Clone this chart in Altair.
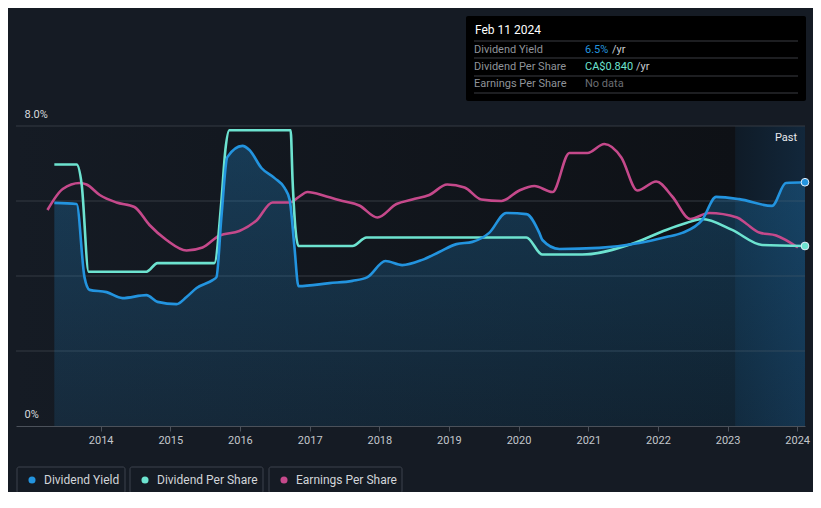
import altair as alt
import pandas as pd

# ---------------- data ----------------
yield_dates = ["2013-05-03", "2013-08-28", "2013-10-08", "2013-11-04", "2014-02-01", "2014-04-25",
               "2014-08-29", "2014-10-26", "2015-02-03", "2015-03-27", "2015-05-19", "2015-08-11",
               "2015-08-31", "2015-09-26", "2015-10-27", "2016-01-14", "2016-02-20", "2016-04-23",
               "2016-07-01", "2016-08-22", "2016-09-18", "2016-10-13", "2016-11-03", "2017-04-15",
               "2017-08-13", "2017-10-31", "2018-02-02", "2018-05-01", "2018-08-14", "2018-11-11",
               "2019-02-09", "2019-05-04", "2019-07-31", "2019-10-28", "2020-02-11", "2020-04-19",
               "2020-05-05", "2020-08-02", "2021-02-27", "2021-09-25", "2022-02-13", "2022-05-08",
               "2022-08-20", "2022-11-02", "2023-03-03", "2023-08-22", "2023-11-03", "2024-02-11"]
yield_values = [5.95, 5.92, 3.97, 3.63, 3.57, 3.41, 3.49, 3.31, 3.25, 3.44, 3.68, 3.89,
                3.97, 5.57, 7.17, 7.47, 7.36, 6.88, 6.61, 6.35, 6.03, 4.77, 3.73, 3.81,
                3.87, 3.97, 4.40, 4.29, 4.43, 4.64, 4.85, 4.91, 5.15, 5.68, 5.65, 5.15,
                4.96, 4.72, 4.75, 4.88, 5.04, 5.15, 5.49, 6.11, 6.05, 5.87, 6.48, 6.50]

dps_dates = ["2013-05-03", "2013-08-28", "2013-09-23", "2013-10-30", "2014-08-29", "2014-10-26",
             "2015-08-20", "2015-09-26", "2015-10-17", "2015-11-07", "2016-09-23", "2016-10-03",
             "2016-11-03", "2017-08-13", "2017-10-26", "2020-02-11", "2020-05-05", "2020-11-30",
             "2021-08-19", "2022-02-13", "2022-05-29", "2022-08-20", "2023-01-25", "2023-07-01",
             "2024-02-11"]
dps_values = [1.22, 1.22, 1.13, 0.72, 0.72, 0.76, 0.76, 1.05, 1.29, 1.38, 1.38, 1.15,
              0.84, 0.84, 0.88, 0.88, 0.80, 0.80, 0.85, 0.915, 0.947, 0.966, 0.915, 0.845,
              0.84]

eps_dates = ["2013-03-28", "2013-06-16", "2013-09-13", "2013-10-19", "2013-12-27", "2014-03-25",
             "2014-06-27", "2014-09-14", "2014-12-12", "2015-03-27", "2015-06-19", "2015-09-16",
             "2015-12-29", "2016-03-28", "2016-06-20", "2016-09-18", "2016-11-08", "2016-12-20",
             "2017-03-30", "2017-06-22", "2017-09-18", "2017-12-22", "2018-04-01", "2018-06-23",
             "2018-09-20", "2018-12-23", "2019-03-24", "2019-06-20", "2019-10-03", "2020-01-05",
             "2020-03-24", "2020-06-27", "2020-09-24", "2020-12-27", "2021-03-26", "2021-06-23",
             "2021-09-15", "2021-12-23", "2022-03-17", "2022-06-19", "2022-09-26", "2023-02-20",
             "2023-04-08", "2023-06-16", "2023-09-13", "2024-01-05"]
eps_values = [1.44, 1.58, 1.62, 1.61, 1.54, 1.49, 1.46, 1.34, 1.24, 1.17, 1.19, 1.27,
              1.30, 1.37, 1.49, 1.49, 1.53, 1.56, 1.53, 1.50, 1.47, 1.39, 1.48, 1.51,
              1.54, 1.61, 1.59, 1.51, 1.50, 1.57, 1.60, 1.56, 1.82, 1.82, 1.88, 1.79,
              1.57, 1.63, 1.53, 1.38, 1.42, 1.39, 1.35, 1.29, 1.27, 1.19]

grid_values = [2, 4, 6, 8]
tick_years = [2014, 2015, 2016, 2017, 2018, 2019, 2020, 2021, 2022, 2023, 2024]
x_domain = ["2012-10-14", "2024-02-11"]
past_start = "2023-02-11"

legend_names = ["Dividend Yield", "Dividend Per Share", "Earnings Per Share"]
tooltip_title = "Feb 11 2024"
tooltip_labels = ["Dividend Yield", "Dividend Per Share", "Earnings Per Share"]
tooltip_values = ["6.5%", "CA$0.840", "No data"]
tooltip_units = ["/yr", "/yr", ""]

# ---------------- style ----------------
FONT = "Roboto"
BG = "#151b24"
BLUE = "#2394df"
TEAL = "#6de3d0"
PINK = "#c5498b"
W, H = 789, 300

df_yield = pd.DataFrame({"date": yield_dates, "v": yield_values})
df_dps = pd.DataFrame({"date": dps_dates, "v": dps_values})
df_eps = pd.DataFrame({"date": eps_dates, "v": eps_values})
df_grid = pd.DataFrame({"v": grid_values})
df_bg = pd.DataFrame({"date": [x_domain[0]], "date2": [past_start]})
df_past = pd.DataFrame({"date": [past_start], "date2": [x_domain[1]]})

x_axis = alt.Axis(format="%Y", values=[alt.DateTime(year=y, month=1, date=1) for y in tick_years],
                  grid=False, labelFlush=False,
                  domainColor="#4b515a", tickColor="#4b515a", tickSize=5,
                  labelColor="#c3c7cc", labelFont=FONT, labelFontSize=11, labelPadding=3,
                  title=None)


def xenc():
    return alt.X("date:T", scale=alt.Scale(domain=x_domain), axis=x_axis)


def yenc(domain):
    return alt.Y("v:Q", scale=alt.Scale(domain=domain), axis=None)


def grad_h(c0, c1):
    return alt.Gradient(gradient="linear", x1=0, x2=1, y1=0, y2=0,
                        stops=[alt.GradientStop(color=c0, offset=0),
                               alt.GradientStop(color=c1, offset=1)])


bg_rect = alt.Chart(df_bg).mark_rect(color=grad_h("#151b24", "#0e1116")).encode(
    x=xenc(), x2="date2:T", y=alt.value(0), y2=alt.value(H))
past_rect = alt.Chart(df_past).mark_rect(color=grad_h("#0f1b27", "#12273b")).encode(
    x=xenc(), x2="date2:T", y=alt.value(0), y2=alt.value(H))

grid = alt.Chart(df_grid).mark_rule(color="#353a42", strokeWidth=1).encode(
    y=alt.Y("v:Q", scale=alt.Scale(domain=[0, 8]),
            axis=alt.Axis(values=[0, 8], grid=False, domain=False, ticks=False,
                          labelExpr="datum.value == 8 ? '8.0%' : '0%'",
                          labelAlign="left", labelBaseline="bottom", labelPadding=-8,
                          labelOffset=-7, labelOverlap=False, labelFlush=False,
                          labelColor="#d6d9dd", labelFont=FONT, zindex=1,
                          labelFontSize=11, title=None)))

area = alt.Chart(df_yield).mark_area(
    interpolate="monotone",
    color=alt.Gradient(gradient="linear", x1=0, x2=0, y1=0, y2=1,
                       stops=[alt.GradientStop(color="rgba(35,148,223,0.28)", offset=0),
                              alt.GradientStop(color="rgba(35,148,223,0.13)", offset=1)])
).encode(x=xenc(), y=yenc([0, 8]))

line_yield = alt.Chart(df_yield).mark_line(interpolate="monotone", color=BLUE, strokeWidth=2.6).encode(
    x=xenc(), y=yenc([0, 8]))
line_dps = alt.Chart(df_dps).mark_line(interpolate="monotone", color=TEAL, strokeWidth=2.6).encode(
    x=xenc(), y=yenc([0, 1.4]))
line_eps = alt.Chart(df_eps).mark_line(interpolate="monotone", color=PINK, strokeWidth=2.6).encode(
    x=xenc(), y=yenc([0, 2]))

pt_yield = alt.Chart(df_yield.tail(1)).mark_circle(size=60, color=BLUE, opacity=1,
                                                   stroke="#e6f0fa", strokeWidth=1).encode(
    x=xenc(), y=yenc([0, 8]))
pt_dps = alt.Chart(df_dps.tail(1)).mark_circle(size=60, color=TEAL, opacity=1,
                                               stroke="#e6f0fa", strokeWidth=1).encode(
    x=xenc(), y=yenc([0, 1.4]))

ONE = alt.Data(values=[{"k": 1}])


def text_at(t, x, y, color, size=11, align="left", weight="normal"):
    return alt.Chart(ONE).mark_text(text=t, align=align, baseline="middle", font=FONT,
                                    fontSize=size, color=color, fontWeight=weight).encode(
        x=alt.value(x), y=alt.value(y))


def box(x, x2, y, y2, fill=None, stroke=None):
    kw = {}
    if fill:
        kw["fill"] = fill
    else:
        kw["fillOpacity"] = 0
    if stroke:
        kw["stroke"] = stroke
        kw["strokeWidth"] = 1
    return alt.Chart(ONE).mark_rect(cornerRadius=2, **kw).encode(
        x=alt.value(x), x2=alt.value(x2), y=alt.value(y), y2=alt.value(y2))


def hline(x, x2, y, color):
    return alt.Chart(ONE).mark_rule(color=color, strokeWidth=1).encode(
        x=alt.value(x), x2=alt.value(x2), y=alt.value(y))


deco = []
# "Past" label
deco.append(text_at("Past", 770, 12, "#e8eaed", 11, "center"))

# tooltip box
deco.append(box(450, 790, -110, -25, fill="#000000"))
deco.append(text_at(tooltip_title, 459, -96, "#ffffff", 12))
for yy in [-85, -68, -50, -33]:
    deco.append(hline(458, 782, yy, "#3a3d42"))
value_colors = [BLUE, TEAL, "#6b6e73"]
unit_x = [596, 620, 0]
row_y = [-76.5, -59.3, -42]
for i, (lab, val, unit) in enumerate(zip(tooltip_labels, tooltip_values, tooltip_units)):
    yy = row_y[i]
    deco.append(text_at(lab, 458, yy, "#8f9399", 11))
    deco.append(text_at(val, 569, yy, value_colors[i], 11))
    if unit:
        deco.append(text_at(unit, unit_x[i], yy, "#c9ccd0", 11))

# legend
leg_colors = [BLUE, TEAL, PINK]
leg_boxes = [(1, 109), (114, 247), (253, 386)]
for name, col, (bx, bx2) in zip(legend_names, leg_colors, leg_boxes):
    deco.append(box(bx, bx2, 341, 367, stroke="#3c424c"))
    deco.append(alt.Chart(ONE).mark_circle(size=50, color=col, opacity=1).encode(
        x=alt.value(bx + 15), y=alt.value(354)))
    deco.append(text_at(name, bx + 27, 354, "#d2d5d9", 12))

chart = alt.layer(
    bg_rect, past_rect, grid, area, line_eps, line_dps, line_yield, pt_yield, pt_dps, *deco
).resolve_scale(y="independent").properties(
    width=W, height=H, background=BG,
    autosize=alt.AutoSizeParams(type="none"),
    padding={"left": 8, "top": 118, "right": 8, "bottom": 66},
).configure_view(stroke=None)

chart.save("out.html", embed_options={"renderer": "svg", "actions": False})
